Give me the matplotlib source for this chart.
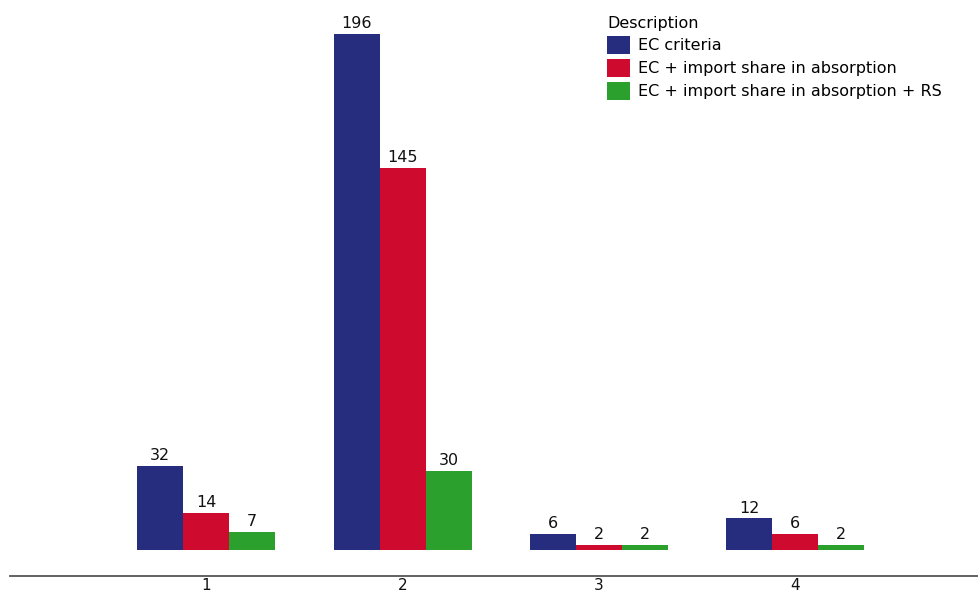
import matplotlib
matplotlib.use("Agg")
import matplotlib.pyplot as plt
import numpy as np
from matplotlib.patches import Patch

categories = ["1", "2", "3", "4"]
series_names = ["EC criteria", "EC + import share in absorption", "EC + import share in absorption + RS"]
ec_criteria = [32, 196, 6, 12]
ec_import = [14, 145, 2, 6]
ec_import_rs = [7, 30, 2, 2]
colors = ["#262D7E", "#CF0A2F", "#2CA02C"]

plt.rcParams['font.family'] = ['DejaVu Sans']

W, H = 979, 595
fig = plt.figure(figsize=(W / 100, H / 100), dpi=100)
ax = fig.add_axes([10 / W, (H - 576) / H, (W - 10) / W, 576 / H])

x = np.arange(1, len(categories) + 1)
width = 0.234
all_series = [ec_criteria, ec_import, ec_import_rs]
for i, (vals, col) in enumerate(zip(all_series, colors)):
    pos = x + (i - 1) * width
    bars = ax.bar(pos, vals, width=width, color=col, linewidth=0)
    for b, v in zip(bars, vals):
        ax.annotate(str(v), (b.get_x() + b.get_width() / 2, v), xytext=(0, 2),
                    textcoords="offset points", ha="center", va="bottom",
                    fontsize=11.5, color="#111111")

ax.set_xlim(0, (W - 10) / 196.3)
ax.set_ylim(-9.9, 208.9)
ax.set_xticks(x)
ax.set_xticklabels(categories, fontsize=11, color="#111111")
ax.tick_params(axis="x", length=0, pad=1.5)
ax.set_yticks([])
for s in ["top", "right", "left"]:
    ax.spines[s].set_visible(False)
ax.spines["bottom"].set_color("#555555")
ax.spines["bottom"].set_linewidth(1.3)

handles = [Patch(facecolor=c, edgecolor="none") for c in colors]
leg = fig.legend(handles, series_names, title="Description", loc="upper left",
                 bbox_to_anchor=(601 / W, 1 - 10 / H), frameon=False,
                 fontsize=11.5, title_fontsize=11.5, handlelength=1.4,
                 handleheight=1.4, handletextpad=0.5, labelspacing=0.28,
                 borderaxespad=0)
leg._legend_box.align = "left"

fig.savefig("out.png", dpi=100)
